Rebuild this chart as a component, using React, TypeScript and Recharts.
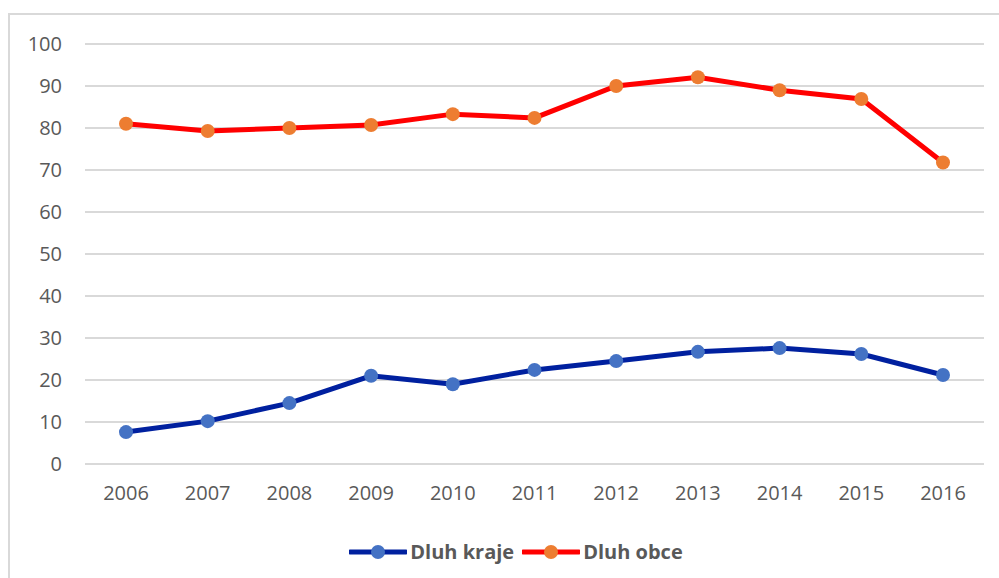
import { CartesianGrid, Legend, Line, LineChart, XAxis, YAxis } from "recharts";

const YEARS = ["2006", "2007", "2008", "2009", "2010", "2011", "2012", "2013", "2014", "2015", "2016"];
const DLUH_KRAJE = [7.6, 10.2, 14.5, 21, 19, 22.4, 24.5, 26.7, 27.6, 26.2, 21.2];
const DLUH_OBCE = [81, 79.3, 80, 80.7, 83.3, 82.4, 90, 92.1, 89, 86.9, 71.8];
const Y_TICKS = [0, 10, 20, 30, 40, 50, 60, 70, 80, 90, 100];

const data = YEARS.map((year, i) => ({
  year,
  kraje: DLUH_KRAJE[i],
  obce: DLUH_OBCE[i],
}));

const FONT = "'Open Sans', 'Liberation Sans', sans-serif";
const TEXT = "#595959";

type LegendItem = { value: string; color: string; fill: string };

function ChartLegend({ items }: { items: LegendItem[] }) {
  return (
    <div style={{ display: "flex", justifyContent: "center", paddingLeft: 48, gap: 8 }}>
      {items.map((it) => (
        <div key={it.value} style={{ display: "flex", alignItems: "center", gap: 3 }}>
          <svg width={58} height={16}>
            <line x1={1} y1={8} x2={57} y2={8} stroke={it.color} strokeWidth={5} strokeLinecap="round" />
            <circle cx={29} cy={8} r={7} fill={it.fill} />
          </svg>
          <span style={{ fontFamily: FONT, fontWeight: 700, fontSize: 20, color: TEXT }}>{it.value}</span>
        </div>
      ))}
    </div>
  );
}

export default function App() {
  const legendItems: LegendItem[] = [
    { value: "Dluh kraje", color: "#00209f", fill: "#4472c4" },
    { value: "Dluh obce", color: "#ff0000", fill: "#ed7d31" },
  ];
  return (
    <div style={{ position: "absolute", left: 0, top: 0, width: 999, height: 578, background: "#fff", overflow: "hidden" }}>
      <div
        style={{
          position: "absolute",
          left: 8,
          top: 13,
          width: 1020,
          height: 600,
          border: "2px solid #d9d9d9",
        }}
      />
      <LineChart
        width={999}
        height={578}
        data={data}
        margin={{ top: 44, right: 15, left: 0, bottom: 10 }}
        style={{ position: "absolute", left: 0, top: 0 }}
      >
        <CartesianGrid stroke="#d9d9d9" strokeWidth={2} vertical={false} />
        <XAxis
          dataKey="year"
          height={74}
          padding={{ left: 41, right: 41 }}
          tickLine={false}
          axisLine={false}
          tickSize={0}
          tickMargin={22}
          interval={0}
          tick={{ fill: TEXT, fontSize: 20, fontFamily: FONT }}
        />
        <YAxis
          width={85}
          domain={[0, 100]}
          ticks={Y_TICKS}
          interval={0}
          tickLine={false}
          axisLine={false}
          tickSize={0}
          tickMargin={23}
          tick={{ fill: TEXT, fontSize: 20, fontFamily: FONT }}
        />
        <Legend
          verticalAlign="bottom"
          height={30}
          content={() => <ChartLegend items={legendItems} />}
        />
        <Line
          dataKey="kraje"
          name="Dluh kraje"
          type="linear"
          stroke="#00209f"
          strokeWidth={5}
          dot={{ r: 7, fill: "#4472c4", stroke: "none" }}
          activeDot={false}
          isAnimationActive={false}
        />
        <Line
          dataKey="obce"
          name="Dluh obce"
          type="linear"
          stroke="#ff0000"
          strokeWidth={5}
          dot={{ r: 7, fill: "#ed7d31", stroke: "none" }}
          activeDot={false}
          isAnimationActive={false}
        />
      </LineChart>
    </div>
  );
}
